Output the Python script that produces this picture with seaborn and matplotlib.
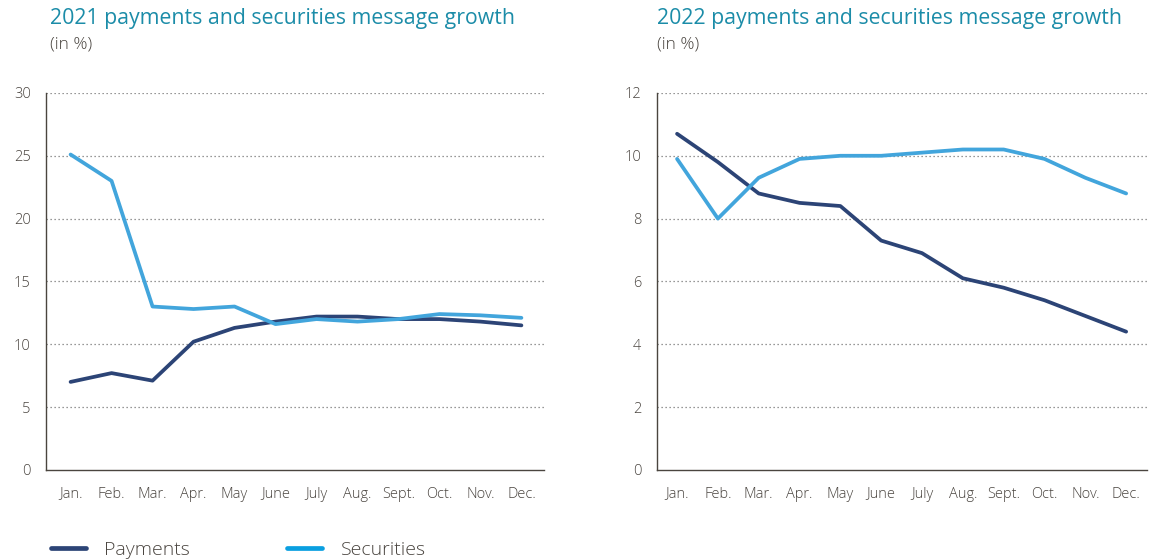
import matplotlib
matplotlib.use("Agg")
import matplotlib.pyplot as plt
import seaborn as sns
import pandas as pd
from matplotlib.lines import Line2D

months = ["Jan.", "Feb.", "Mar.", "Apr.", "May", "June", "July", "Aug.", "Sept.", "Oct.", "Nov.", "Dec."]
pay_2021 = [7.0, 7.7, 7.1, 10.2, 11.3, 11.8, 12.2, 12.2, 12.0, 12.0, 11.8, 11.5]
sec_2021 = [25.1, 23.0, 13.0, 12.8, 13.0, 11.6, 12.0, 11.8, 12.0, 12.4, 12.3, 12.1]
pay_2022 = [10.7, 9.8, 8.8, 8.5, 8.4, 7.3, 6.9, 6.1, 5.8, 5.4, 4.9, 4.4]
sec_2022 = [9.9, 8.0, 9.3, 9.9, 10.0, 10.0, 10.1, 10.2, 10.2, 9.9, 9.3, 8.8]
series_names = ["Payments", "Securities"]
titles = ["2021 payments and securities message growth", "2022 payments and securities message growth"]
subtitle = "(in %)"
yticks_2021 = [0, 5, 10, 15, 20, 25, 30]
yticks_2022 = [0, 2, 4, 6, 8, 10, 12]

PAY_C = "#2c4476"
SEC_C = "#42a5dc"
TITLE_C = "#1b8ca8"
TXT_C = "#4a4540"
AX_C = "#4a453f"

sns.set_style("white")
plt.rcParams["font.family"] = ["Open Sans", "DejaVu Sans"]

fig = plt.figure(figsize=(11.5, 5.6), dpi=100)
ax1 = fig.add_axes([0.040, 0.161, 0.433, 0.673])
ax2 = fig.add_axes([0.571, 0.161, 0.426, 0.673])

def make_df(p, s):
    rows = []
    for i, m in enumerate(months):
        rows.append({"x": i, "value": p[i], "series": series_names[0]})
        rows.append({"x": i, "value": s[i], "series": series_names[1]})
    return pd.DataFrame(rows)

panels = [(ax1, make_df(pay_2021, sec_2021), yticks_2021, -0.6, 11.55),
          (ax2, make_df(pay_2022, sec_2022), yticks_2022, -0.5, 11.5)]

for ax, df, yt, xl, xr in panels:
    sns.lineplot(data=df, x="x", y="value", hue="series", palette=[PAY_C, SEC_C],
                 hue_order=series_names, linewidth=2.7, ax=ax, legend=False)
    ax.set_xlim(xl, xr)
    ax.set_ylim(yt[0], yt[-1])
    ax.set_xlabel("")
    ax.set_ylabel("")
    for v in yt[1:]:
        ax.axhline(v, color="#777777", linestyle=(0, (1, 2.2)), linewidth=0.9, zorder=0)
    ax.set_yticks(yt)
    ax.set_yticklabels([str(v) for v in yt], fontweight="light")
    ax.set_xticks(range(12))
    ax.set_xticklabels(months, fontweight="light")
    ax.set_xticks([i + 0.5 for i in range(12)], minor=True)
    ax.tick_params(axis="x", which="major", length=0, pad=12, labelsize=10.5, colors=TXT_C)
    ax.tick_params(axis="x", which="minor", direction="in", length=8, width=1.0, color=AX_C)
    ax.tick_params(axis="y", which="major", direction="out", length=5, width=1.0, color=AX_C,
                   labelsize=10.5, labelcolor=TXT_C, pad=6)
    for s in ["top", "right"]:
        ax.spines[s].set_visible(False)
    for s in ["left", "bottom"]:
        ax.spines[s].set_color(AX_C)
        ax.spines[s].set_linewidth(1.0)

fig.text(0.0435, 0.967, titles[0], fontsize=15.3, color=TITLE_C, va="center", ha="left")
fig.text(0.0435, 0.920, subtitle, fontsize=12.5, color=TXT_C, va="center", ha="left",
         fontweight="light")
fig.text(0.571, 0.967, titles[1], fontsize=15.3, color=TITLE_C, va="center", ha="left")
fig.text(0.571, 0.920, subtitle, fontsize=12.5, color=TXT_C, va="center", ha="left",
         fontweight="light")

handles = [Line2D([0], [0], color=PAY_C, linewidth=3.4),
           Line2D([0], [0], color="#0a9fe0", linewidth=3.4)]
fig.legend(handles, series_names, loc="center left", bbox_to_anchor=(0.029, 0.018), ncol=2,
           frameon=False, handlelength=1.8, columnspacing=5.0,
           handletextpad=0.95, labelcolor=TXT_C, prop={"size": 14, "weight": "light"})

fig.savefig("out.png", dpi=100)
